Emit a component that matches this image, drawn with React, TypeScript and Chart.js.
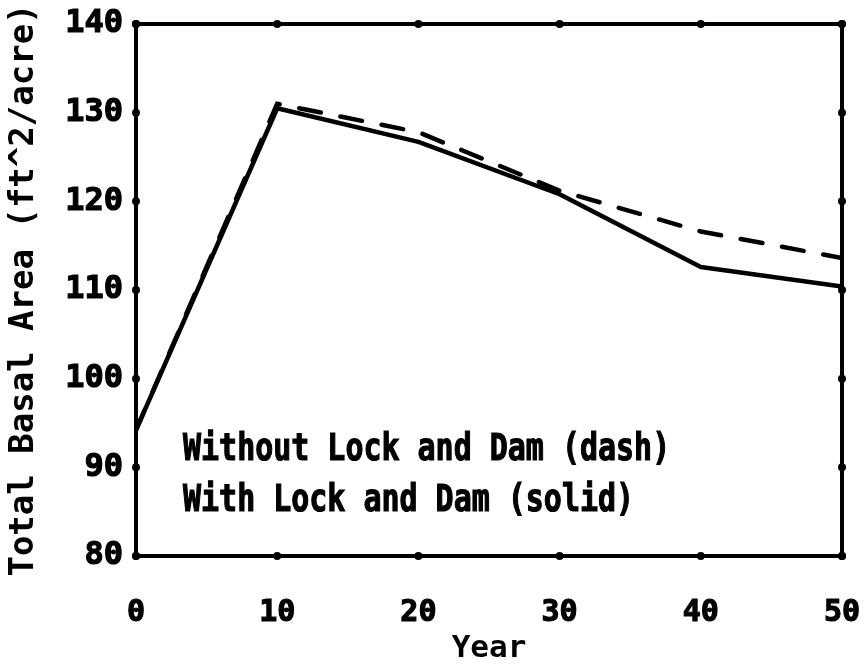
import { useEffect, useRef } from "react";
import { Chart, registerables } from "chart.js";

Chart.register(...registerables);

// Simulation years and total basal area (ft^2/acre)
const years = [0, 10, 20, 30, 40, 50];
const withoutLockAndDam = [94.2, 131.0, 127.8, 121.2, 116.6, 113.6];
const withLockAndDam = [94.2, 130.5, 126.7, 120.8, 112.6, 110.4];

const xTickValues = [0, 10, 20, 30, 40, 50];
const yTickValues = [80, 90, 100, 110, 120, 130, 140];

const noteLines = ["Without Lock and Dam (dash)", "With Lock and Dam (solid)"];

const xTitle = "Year";
const yTitle = "Total Basal Area (ft^2/acre)";

const FONT = "'DejaVu Sans Mono', 'Liberation Mono', monospace";

// Heavy plotter-style frame with dots at the major ticks on every side
const framePlugin = {
  id: "plotFrame",
  afterDatasetsDraw(chart: any) {
    const { ctx, chartArea } = chart;
    const { left, right, top, bottom } = chartArea;
    const xs = chart.scales.x;
    const ys = chart.scales.y;
    ctx.save();
    ctx.strokeStyle = "#000";
    ctx.fillStyle = "#000";
    ctx.lineWidth = 4;
    ctx.lineJoin = "round";
    ctx.strokeRect(left, top, right - left, bottom - top);
    const dot = (x: number, y: number) => {
      ctx.beginPath();
      ctx.ellipse(x, y, 4, 4, 0, 0, Math.PI * 2);
      ctx.fill();
    };
    xTickValues.forEach((v) => {
      const px = xs.getPixelForValue(v);
      dot(px, top);
      dot(px, bottom);
    });
    yTickValues.forEach((v) => {
      const py = ys.getPixelForValue(v);
      dot(left, py);
      dot(right, py);
    });
    ctx.restore();
  },
};

// Two-line note inside the plot that explains the line styles
const notePlugin = {
  id: "lineNote",
  afterDraw(chart: any) {
    const { ctx, chartArea } = chart;
    ctx.save();
    ctx.fillStyle = "#000";
    ctx.strokeStyle = "#000";
    ctx.lineWidth = 1.2;
    ctx.font = `bold 37px ${FONT}`;
    ctx.textBaseline = "alphabetic";
    ctx.textAlign = "left";
    noteLines.forEach((line, i) => {
      ctx.save();
      ctx.translate(chartArea.left + 47, chartArea.top + 436 + i * 51);
      ctx.scale(0.81, 1);
      ctx.fillText(line, 0, 0);
      ctx.strokeText(line, 0, 0);
      ctx.restore();
    });
    ctx.restore();
  },
};

const noEdgePadding = (scale: any) => {
  scale.paddingLeft = 0;
  scale.paddingRight = 0;
  scale.paddingTop = 0;
  scale.paddingBottom = 0;
};

export default function App() {
  const canvasRef = useRef<HTMLCanvasElement | null>(null);

  useEffect(() => {
    const canvas = canvasRef.current;
    if (!canvas) return;
    const chart = new Chart(canvas, {
      type: "line",
      data: {
        datasets: [
          {
            label: "Without Lock and Dam",
            data: years.map((x, i) => ({ x, y: withoutLockAndDam[i] })),
            borderColor: "#000",
            borderWidth: 4.5,
            borderDash: [22, 20],
            borderCapStyle: "round",
            pointRadius: 0,
            tension: 0,
          },
          {
            label: "With Lock and Dam",
            data: years.map((x, i) => ({ x, y: withLockAndDam[i] })),
            borderColor: "#000",
            borderWidth: 4.5,
            borderCapStyle: "round",
            borderJoinStyle: "round",
            pointRadius: 0,
            tension: 0,
          },
        ],
      },
      options: {
        animation: false,
        responsive: false,
        maintainAspectRatio: false,
        layout: { padding: { top: 24, right: 26, left: 0, bottom: 0 } },
        plugins: {
          legend: { display: false },
          tooltip: { enabled: false },
        },
        scales: {
          x: {
            type: "linear",
            min: 0,
            max: 50,
            grid: { display: false },
            border: { display: false },
            afterBuildTicks: (scale: any) => {
              scale.ticks = xTickValues.map((value) => ({ value }));
            },
            afterFit: (scale: any) => {
              scale.height = 108;
              noEdgePadding(scale);
            },
            ticks: {
              color: "#000",
              padding: 31,
              maxRotation: 0,
              textStrokeColor: "#000",
              textStrokeWidth: 1.2,
              font: { family: FONT, size: 30, weight: "bold" },
            },
            title: {
              display: true,
              text: xTitle,
              color: "#000",
              padding: { top: 0, bottom: 0 },
              font: { family: FONT, size: 31, weight: "bold", lineHeight: 1 },
            },
          },
          y: {
            type: "linear",
            min: 80,
            max: 140,
            grid: { display: false },
            border: { display: false },
            afterBuildTicks: (scale: any) => {
              scale.ticks = yTickValues.map((value) => ({ value }));
            },
            afterFit: (scale: any) => {
              scale.width = 136;
              noEdgePadding(scale);
            },
            ticks: {
              color: "#000",
              padding: 5,
              textStrokeColor: "#000",
              textStrokeWidth: 1.2,
              font: { family: FONT, size: 32, weight: "bold" },
            },
            title: {
              display: true,
              text: yTitle,
              color: "#000",
              padding: { top: 7, bottom: 0 },
              font: { family: FONT, size: 34, weight: "bold", lineHeight: 1 },
            },
          },
        },
      } as any,
      plugins: [framePlugin, notePlugin],
    });
    return () => chart.destroy();
  }, []);

  return (
    <div style={{ position: "fixed", left: 0, top: 0, width: 868, height: 664, background: "#fff" }}>
      <canvas ref={canvasRef} width={868} height={664} style={{ display: "block" }} />
    </div>
  );
}
